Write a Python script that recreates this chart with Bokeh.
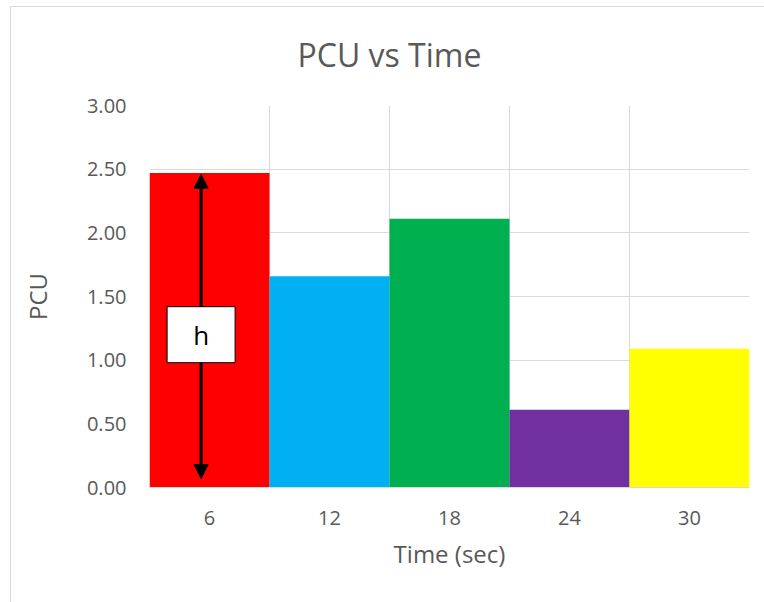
from bokeh.plotting import figure
from bokeh.models import FixedTicker, Range1d, Arrow, NormalHead, ColumnDataSource, InlineStyleSheet
from bokeh.core.properties import value
from bokeh.embed import file_html
from bokeh.resources import INLINE

categories = ["6", "12", "18", "24", "30"]
pcu = [2.47, 1.66, 2.11, 0.61, 1.09]
colors = ["#FF0000", "#00B0F0", "#00B050", "#7030A0", "#FFFF00"]
y_ticks = [0.0, 0.5, 1.0, 1.5, 2.0, 2.5, 3.0]
annot_text = "h"
annot_box = [0.98, 1.42]  # bottom/top of the "h" box in PCU units

FONT = "Open Sans"
GREY = "#595959"

xs = [i + 0.5 for i in range(len(categories))]
src = ColumnDataSource(dict(x=xs, top=pcu, color=colors))

p = figure(width=764, height=602, output_backend="svg", toolbar_location=None,
           x_range=Range1d(0, len(categories)), y_range=Range1d(0, 3.0),
           min_border_left=149, min_border_right=15, min_border_top=105, min_border_bottom=115,
           title="PCU vs Time")
p.outline_line_color = None
p.background_fill_color = "white"
p.border_fill_color = "white"
p.stylesheets = [InlineStyleSheet(css="""
:host { position: relative; }
:host::after { content: ""; position: absolute; left: 10px; top: 6px; width: 800px; height: 700px;
  border: 1px solid #D9D9D9; box-sizing: border-box; pointer-events: none; }
""")]

p.title.align = "left"
p.title.text_font = FONT
p.title.text_font_style = "normal"
p.title.text_font_size = "32px"
p.title.text_color = GREY
p.title.offset = 148
p.title.standoff = 59

p.vbar(x="x", top="top", width=1.0, fill_color="color", line_color=None, source=src)

# grid
p.xgrid.ticker = FixedTicker(ticks=list(range(len(categories) + 1)))
p.ygrid.ticker = FixedTicker(ticks=y_ticks)
for g in (p.xgrid, p.ygrid):
    g.grid_line_color = "#D9D9D9"
    g.grid_line_width = 1

# axes
p.xaxis.ticker = FixedTicker(ticks=xs)
p.xaxis.major_label_overrides = {x: c for x, c in zip(xs, categories)}
p.yaxis.ticker = FixedTicker(ticks=y_ticks)
p.yaxis.major_label_overrides = {t: f"{t:.2f}" for t in y_ticks}
for ax in (p.xaxis, p.yaxis):
    ax.major_tick_line_color = None
    ax.minor_tick_line_color = None
    ax.major_label_text_font = FONT
    ax.major_label_text_font_size = "20px"
    ax.major_label_text_color = GREY
    ax.axis_label_text_font = FONT
    ax.axis_label_text_font_size = "24px"
    ax.axis_label_text_font_style = "normal"
    ax.axis_label_text_color = GREY
p.xaxis.axis_line_color = "#D9D9D9"
p.yaxis.axis_line_color = None
p.xaxis.axis_label = "Time (sec)"
p.yaxis.axis_label = "PCU"
p.yaxis.major_label_standoff = 17
p.xaxis.major_label_standoff = 17
p.yaxis.axis_label_standoff = 30
p.xaxis.axis_label_standoff = 9

# arrow annotation in first bar
ax_x = 0.43
head = dict(size=14, fill_color="black", line_color="black")
p.add_layout(Arrow(end=NormalHead(**head), x_start=ax_x, y_start=annot_box[1], x_end=ax_x, y_end=pcu[0] - 0.01,
                   line_color="black", line_width=3))
p.add_layout(Arrow(end=NormalHead(**head), x_start=ax_x, y_start=annot_box[0], x_end=ax_x, y_end=0.07,
                   line_color="black", line_width=3))
mid = (annot_box[0] + annot_box[1]) / 2
p.rect(x=[ax_x], y=[mid], width=[68], height=[56], width_units="screen", height_units="screen",
       fill_color="white", line_color="black", line_width=1)
p.text(x=[ax_x], y=[mid], text=[annot_text], text_align="center", text_baseline="middle",
       text_font=value(FONT), text_font_size="26px", text_color="black")

open("out.html", "w").write(file_html(p, INLINE))
